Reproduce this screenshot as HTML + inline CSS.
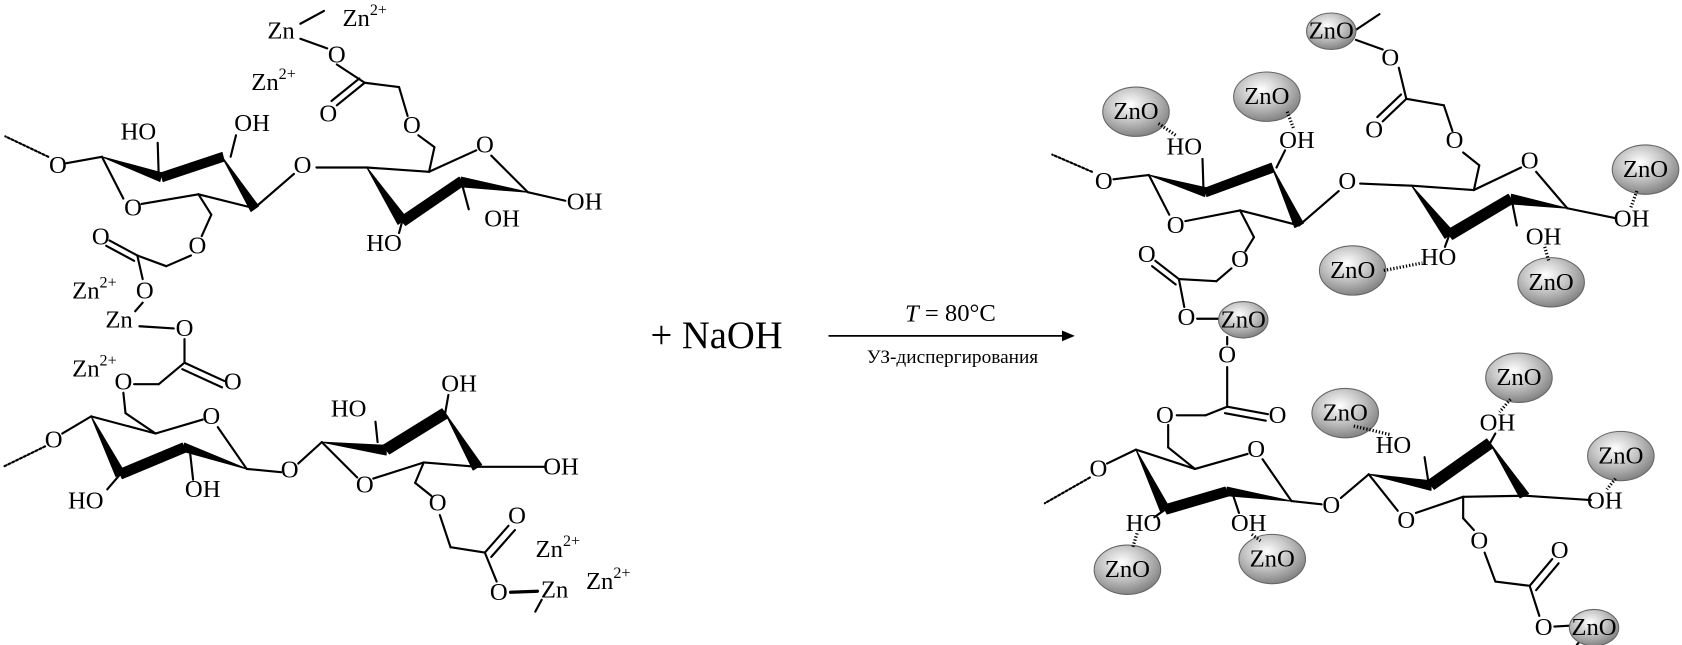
<!DOCTYPE html>
<html><head><meta charset="utf-8"><style>
html,body{margin:0;padding:0;background:#fff}
svg{display:block}
text{font-family:"Liberation Serif",serif;font-size:23px;fill:#000}
</style></head><body>
<svg width="1682" height="645" viewBox="0 0 1568 601" xmlns="http://www.w3.org/2000/svg">
<defs>
<radialGradient id="g" cx="0.42" cy="0.35" r="0.7">
<stop offset="0" stop-color="#ffffff"/><stop offset="0.45" stop-color="#c8c8c8"/><stop offset="1" stop-color="#7a7a7a"/>
</radialGradient>
</defs>
<g stroke="#000" stroke-width="2" fill="none" stroke-linecap="round">
<line x1="280" y1="22" x2="302" y2="10"/>
<line x1="280" y1="36" x2="305" y2="45"/>
<line x1="314" y1="60" x2="340" y2="77"/>
<line x1="340" y1="77" x2="314" y2="98"/><line x1="335" y1="73" x2="309" y2="94"/>
<line x1="340" y1="77" x2="372" y2="81"/>
<line x1="372" y1="81" x2="380" y2="108"/>
<line x1="390" y1="126" x2="405" y2="137"/>
<line x1="405" y1="137" x2="400" y2="160"/>
<line x1="400" y1="160" x2="444" y2="140"/>
<line x1="458" y1="145" x2="492" y2="179"/>
<line x1="492" y1="179" x2="527" y2="187"/>
<line x1="342" y1="156" x2="400" y2="160"/>
<line x1="295" y1="156" x2="342" y2="156"/>
<line x1="274" y1="162" x2="237" y2="194"/>
<line x1="430" y1="169" x2="437" y2="195"/>
<line x1="375" y1="206" x2="372" y2="217"/>
<line x1="62" y1="152" x2="95" y2="146"/>
<line x1="45" y1="146" x2="5" y2="127" stroke-dasharray="2,2"/>
<line x1="95" y1="146" x2="115" y2="185"/>
<line x1="132" y1="190" x2="185" y2="181"/>
<line x1="185" y1="181" x2="237" y2="194"/>
<line x1="148" y1="165" x2="147" y2="133"/>
<line x1="215" y1="146" x2="220" y2="126"/>
<line x1="185" y1="181" x2="197" y2="200"/>
<line x1="197" y1="200" x2="188" y2="220"/>
<line x1="178" y1="238" x2="155" y2="248"/>
<line x1="155" y1="248" x2="128" y2="238"/>
<line x1="128" y1="238" x2="102" y2="224"/><line x1="125" y1="243" x2="99" y2="229"/>
<line x1="128" y1="238" x2="133" y2="260"/>
<line x1="133" y1="282" x2="126" y2="290"/>
<line x1="130" y1="304" x2="162" y2="306"/>
<line x1="172" y1="316" x2="172" y2="338"/>
<line x1="172" y1="338" x2="209" y2="355"/><line x1="170" y1="344" x2="207" y2="361"/>
<line x1="172" y1="338" x2="148" y2="358"/>
<line x1="148" y1="358" x2="125" y2="358"/>
<line x1="115" y1="366" x2="117" y2="385"/>
<line x1="117" y1="385" x2="145" y2="404"/>
<line x1="85" y1="388" x2="58" y2="404"/>
<line x1="42" y1="416" x2="3" y2="435" stroke-dasharray="2,2"/>
<line x1="85" y1="388" x2="145" y2="404"/>
<line x1="145" y1="404" x2="189" y2="391"/>
<line x1="203" y1="398" x2="230" y2="437"/>
<line x1="230" y1="437" x2="262" y2="440"/>
<line x1="112" y1="442" x2="100" y2="456"/>
<line x1="177" y1="420" x2="180" y2="447"/>
<line x1="278" y1="432" x2="300" y2="412"/>
<line x1="300" y1="412" x2="333" y2="445"/>
<line x1="348" y1="446" x2="395" y2="431"/>
<line x1="395" y1="431" x2="445" y2="435"/>
<line x1="445" y1="435" x2="507" y2="435"/>
<line x1="352" y1="412" x2="350" y2="393"/>
<line x1="415" y1="385" x2="418" y2="368"/>
<line x1="395" y1="431" x2="387" y2="450"/>
<line x1="387" y1="450" x2="402" y2="462"/>
<line x1="410" y1="480" x2="420" y2="510"/>
<line x1="420" y1="510" x2="452" y2="515"/>
<line x1="452" y1="515" x2="474" y2="490"/><line x1="458" y1="519" x2="480" y2="494"/>
<line x1="452" y1="515" x2="463" y2="542"/>
<line x1="476" y1="552" x2="501" y2="551" stroke-width="3"/>
<line x1="505" y1="559" x2="499" y2="570"/>
<line x1="773" y1="313" x2="990" y2="313" stroke-width="1.6"/>
<line x1="1262" y1="29" x2="1286" y2="13"/>
<line x1="1264" y1="37" x2="1289" y2="46"/>
<line x1="1304" y1="63" x2="1311" y2="92"/>
<line x1="1311" y1="92" x2="1289" y2="113"/><line x1="1306" y1="88" x2="1284" y2="109"/>
<line x1="1311" y1="92" x2="1346" y2="98"/>
<line x1="1346" y1="98" x2="1354" y2="122"/>
<line x1="1364" y1="142" x2="1379" y2="154"/>
<line x1="1379" y1="154" x2="1374" y2="177"/>
<line x1="1316" y1="173" x2="1374" y2="177"/>
<line x1="1374" y1="177" x2="1418" y2="156"/>
<line x1="1432" y1="160" x2="1461" y2="194"/>
<line x1="1461" y1="194" x2="1505" y2="203"/>
<line x1="1268" y1="171" x2="1316" y2="173"/>
<line x1="1248" y1="178" x2="1211" y2="210"/>
<line x1="1409" y1="185" x2="1414" y2="210"/>
<line x1="1351" y1="219" x2="1347" y2="230"/>
<line x1="1038" y1="167" x2="1071" y2="163"/>
<line x1="1018" y1="160" x2="981" y2="144" stroke-dasharray="2,2"/>
<line x1="1071" y1="163" x2="1090" y2="200"/>
<line x1="1105" y1="206" x2="1156" y2="196"/>
<line x1="1156" y1="196" x2="1211" y2="210"/>
<line x1="1122" y1="179" x2="1121" y2="148"/>
<line x1="1190" y1="156" x2="1198" y2="140"/>
<line x1="1156" y1="196" x2="1169" y2="221"/>
<line x1="1169" y1="221" x2="1161" y2="234"/>
<line x1="1148" y1="250" x2="1134" y2="262"/>
<line x1="1134" y1="262" x2="1099" y2="260"/>
<line x1="1099" y1="260" x2="1077" y2="243"/><line x1="1096" y1="265" x2="1074" y2="248"/>
<line x1="1099" y1="260" x2="1104" y2="286"/>
<line x1="1116" y1="297" x2="1136" y2="297"/>
<line x1="1144" y1="314" x2="1144" y2="321"/>
<line x1="1144" y1="342" x2="1144" y2="379"/>
<line x1="1144" y1="379" x2="1182" y2="386"/><line x1="1142" y1="385" x2="1180" y2="392"/>
<line x1="1144" y1="379" x2="1124" y2="387"/>
<line x1="1124" y1="387" x2="1097" y2="387"/>
<line x1="1089" y1="396" x2="1089" y2="417"/>
<line x1="1089" y1="417" x2="1114" y2="437"/>
<line x1="1059" y1="419" x2="1032" y2="432"/>
<line x1="1016" y1="445" x2="974" y2="469" stroke-dasharray="2,2"/>
<line x1="1059" y1="419" x2="1114" y2="437"/>
<line x1="1114" y1="437" x2="1163" y2="423"/>
<line x1="1177" y1="428" x2="1204" y2="467"/>
<line x1="1204" y1="467" x2="1232" y2="470"/>
<line x1="1086" y1="475" x2="1076" y2="482"/>
<line x1="1149" y1="460" x2="1155" y2="478"/>
<line x1="1250" y1="464" x2="1276" y2="442"/>
<line x1="1276" y1="442" x2="1303" y2="476"/>
<line x1="1320" y1="478" x2="1364" y2="463"/>
<line x1="1364" y1="463" x2="1421" y2="462"/>
<line x1="1421" y1="462" x2="1483" y2="466"/>
<line x1="1332" y1="452" x2="1328" y2="426"/>
<line x1="1389" y1="413" x2="1394" y2="404"/>
<line x1="1364" y1="463" x2="1364" y2="483"/>
<line x1="1364" y1="483" x2="1374" y2="494"/>
<line x1="1384" y1="515" x2="1394" y2="542"/>
<line x1="1394" y1="542" x2="1426" y2="546"/>
<line x1="1426" y1="546" x2="1447" y2="521"/><line x1="1432" y1="550" x2="1453" y2="525"/>
<line x1="1426" y1="546" x2="1435" y2="574"/>
<line x1="1449" y1="584" x2="1465" y2="583"/>
<line x1="1474" y1="596" x2="1470" y2="601"/>
</g>
<polygon points="990,308 1002,313 990,318" fill="#000"/>
<g fill="#000" stroke="#000" stroke-width="1" stroke-linejoin="round">
<polygon points="95,146 151,161 149,169"/>
<polygon points="150,161 207,142 209,150 152,169"/>
<polygon points="207,146 234,197 241,192"/>
<polygon points="342,156 371,209 379,203"/>
<polygon points="372,203 428,165 432,173 378,210"/>
<polygon points="492,179 430,165 430,174"/>
<polygon points="85,388 108,444 116,440"/>
<polygon points="110,438 170,413 174,421 114,446"/>
<polygon points="230,437 172,413 172,421"/>
<polygon points="300,412 360,415 360,424"/>
<polygon points="357,415 412,381 418,389 363,423"/>
<polygon points="415,385 441,438 449,433"/>
<polygon points="1071,163 1125,175 1123,183"/>
<polygon points="1124,175 1185,152 1188,160 1125,183"/>
<polygon points="1186,156 1207,212 1215,208"/>
<polygon points="1316,173 1347,222 1355,216"/>
<polygon points="1348,215 1406,181 1411,189 1354,223"/>
<polygon points="1461,194 1409,181 1409,190"/>
<polygon points="1059,419 1082,477 1090,473"/>
<polygon points="1084,471 1142,454 1146,462 1088,479"/>
<polygon points="1204,467 1144,454 1144,462"/>
<polygon points="1276,442 1334,448 1334,457"/>
<polygon points="1331,448 1386,409 1392,417 1337,456"/>
<polygon points="1389,413 1417,464 1425,460"/>
</g>
<g fill="url(#g)" stroke="#666" stroke-width="1">
<ellipse cx="1241" cy="29" rx="23" ry="17"/>
<ellipse cx="1059" cy="104" rx="31" ry="23"/>
<ellipse cx="1181" cy="90" rx="31" ry="23"/>
<ellipse cx="1534" cy="158" rx="31" ry="23"/>
<ellipse cx="1261" cy="252" rx="31" ry="23"/>
<ellipse cx="1446" cy="263" rx="31" ry="23"/>
<ellipse cx="1159" cy="298" rx="23" ry="17"/>
<ellipse cx="1254" cy="385" rx="31" ry="23"/>
<ellipse cx="1416" cy="352" rx="31" ry="23"/>
<ellipse cx="1511" cy="425" rx="31" ry="23"/>
<ellipse cx="1051" cy="531" rx="31" ry="23"/>
<ellipse cx="1186" cy="521" rx="31" ry="23"/>
<ellipse cx="1486" cy="585" rx="23" ry="17"/>
</g>
<g stroke="#000" stroke-width="3" stroke-dasharray="1.2,1.8">
<line x1="1080" y1="115" x2="1096" y2="126"/>
<line x1="1200" y1="104" x2="1206" y2="120"/>
<line x1="1526" y1="178" x2="1520" y2="194"/>
<line x1="1290" y1="252" x2="1326" y2="245"/>
<line x1="1440" y1="230" x2="1444" y2="244"/>
<line x1="1262" y1="397" x2="1296" y2="405"/>
<line x1="1408" y1="372" x2="1398" y2="384"/>
<line x1="1506" y1="446" x2="1498" y2="456"/>
<line x1="1060" y1="497" x2="1056" y2="510"/>
<line x1="1167" y1="498" x2="1175" y2="504"/>
</g>
<g text-anchor="middle" dominant-baseline="central">
<text x="262" y="29">Zn</text>
<text x="340" y="17">Zn<tspan font-size="15" dy="-8">2+</tspan></text>
<text x="314" y="51">O</text>
<text x="255" y="77">Zn<tspan font-size="15" dy="-8">2+</tspan></text>
<text x="306" y="106">O</text>
<text x="384" y="117">O</text>
<text x="129" y="123">HO</text>
<text x="235" y="115">OH</text>
<text x="54" y="154">O</text>
<text x="282" y="154">O</text>
<text x="452" y="135">O</text>
<text x="124" y="194">O</text>
<text x="545" y="188">OH</text>
<text x="468" y="204">OH</text>
<text x="358" y="227">HO</text>
<text x="184" y="229">O</text>
<text x="94" y="221">O</text>
<text x="88" y="271">Zn<tspan font-size="15" dy="-8">2+</tspan></text>
<text x="135" y="271">O</text>
<text x="111" y="298">Zn</text>
<text x="172" y="306">O</text>
<text x="88" y="344">Zn<tspan font-size="15" dy="-8">2+</tspan></text>
<text x="115" y="356">O</text>
<text x="217" y="356">O</text>
<text x="428" y="358">OH</text>
<text x="325" y="381">HO</text>
<text x="197" y="388">O</text>
<text x="50" y="410">O</text>
<text x="270" y="438">O</text>
<text x="523" y="435">OH</text>
<text x="340" y="452">O</text>
<text x="80" y="467">HO</text>
<text x="189" y="456">OH</text>
<text x="408" y="469">O</text>
<text x="482" y="481">O</text>
<text x="520" y="512">Zn<tspan font-size="15" dy="-8">2+</tspan></text>
<text x="567" y="542">Zn<tspan font-size="15" dy="-8">2+</tspan></text>
<text x="465" y="552">O</text>
<text x="517" y="550">Zn</text>
<text x="668" y="313" style="font-size:36px">+ NaOH</text>
<text x="886" y="292" style="font-size:23px"><tspan font-style="italic">T</tspan> = 80°C</text>
<text x="888" y="333" style="font-size:18px">УЗ-диспергирования</text>
<text x="1241" y="29">ZnO</text>
<text x="1296" y="54">O</text>
<text x="1059" y="104">ZnO</text>
<text x="1181" y="90">ZnO</text>
<text x="1281" y="121">O</text>
<text x="1356" y="131">O</text>
<text x="1104" y="137">HO</text>
<text x="1209" y="131">OH</text>
<text x="1426" y="150">O</text>
<text x="1534" y="158">ZnO</text>
<text x="1029" y="169">O</text>
<text x="1256" y="169">O</text>
<text x="1096" y="210">O</text>
<text x="1521" y="204">OH</text>
<text x="1439" y="221">OH</text>
<text x="1156" y="242">O</text>
<text x="1069" y="237">O</text>
<text x="1341" y="240">HO</text>
<text x="1261" y="252">ZnO</text>
<text x="1446" y="263">ZnO</text>
<text x="1106" y="296">O</text>
<text x="1159" y="298">ZnO</text>
<text x="1144" y="331">O</text>
<text x="1416" y="352">ZnO</text>
<text x="1254" y="385">ZnO</text>
<text x="1086" y="387">O</text>
<text x="1191" y="387">O</text>
<text x="1396" y="394">OH</text>
<text x="1299" y="415">HO</text>
<text x="1171" y="419">O</text>
<text x="1511" y="425">ZnO</text>
<text x="1024" y="437">O</text>
<text x="1241" y="471">O</text>
<text x="1496" y="467">OH</text>
<text x="1311" y="485">O</text>
<text x="1066" y="488">HO</text>
<text x="1164" y="488">OH</text>
<text x="1379" y="504">O</text>
<text x="1454" y="513">O</text>
<text x="1186" y="521">ZnO</text>
<text x="1051" y="531">ZnO</text>
<text x="1439" y="585">O</text>
<text x="1486" y="585">ZnO</text>
</g>
</svg>
</body></html>
